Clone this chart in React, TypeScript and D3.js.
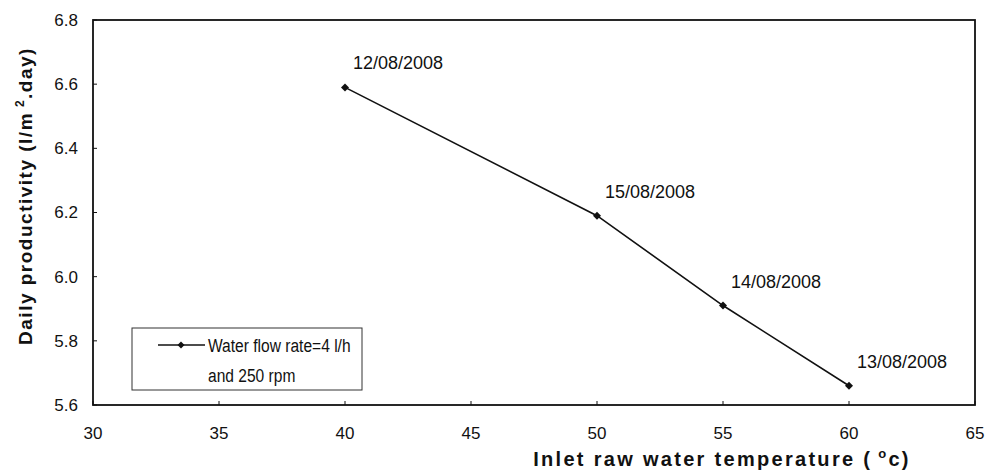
import * as d3 from "d3";

// data
const temps = [40, 50, 55, 60];
const productivity = [6.59, 6.19, 5.91, 5.66];
const dates = ["12/08/2008", "15/08/2008", "14/08/2008", "13/08/2008"];
const xTicks = [30, 35, 40, 45, 50, 55, 60, 65];
const yTicks = [5.6, 5.8, 6.0, 6.2, 6.4, 6.6, 6.8];
const legendLines = ["Water flow rate=4 l/h", "and 250 rpm"];

const W = 989;
const H = 472;
const margin = { left: 93, right: 14, top: 20, bottom: 67 };
const font = "'Liberation Sans', Arial, sans-serif";

const Diamond = ({ x, y, r = 4 }: { x: number; y: number; r?: number }) => (
  <path d={`M${x},${y - r}L${x + r},${y}L${x},${y + r}L${x - r},${y}Z`} fill="#111" />
);

export default function App() {
  const x = d3.scaleLinear().domain([30, 65]).range([margin.left, W - margin.right]);
  const y = d3.scaleLinear().domain([5.6, 6.8]).range([H - margin.bottom, margin.top]);

  const pts = temps.map((t, i) => ({ t, v: productivity[i], label: dates[i] }));
  const line = d3
    .line<{ t: number; v: number }>()
    .x((d) => x(d.t))
    .y((d) => y(d.v));

  const x0 = x(30);
  const x1 = x(65);
  const y0 = y(5.6);
  const y1 = y(6.8);

  return (
    <div style={{ position: "absolute", left: 0, top: 0 }}>
      <svg width={W} height={H} style={{ display: "block", background: "#fff" }} fontFamily={font}>
        {/* frame */}
        <rect x={x0} y={y1} width={x1 - x0} height={y0 - y1} fill="none" stroke="#111" strokeWidth={1.8} />

        {/* y ticks */}
        {yTicks.map((t) => (
          <g key={"y" + t}>
            <line x1={x0} x2={x0 + 4} y1={y(t)} y2={y(t)} stroke="#111" strokeWidth={1} />
            <text x={x0 - 15} y={y(t)} dy="0.35em" textAnchor="end" fontSize={17} fill="#111">
              {t.toFixed(1)}
            </text>
          </g>
        ))}

        {/* x ticks */}
        {xTicks.map((t) => (
          <g key={"x" + t}>
            <line x1={x(t)} x2={x(t)} y1={y0} y2={y0 - 4} stroke="#111" strokeWidth={1} />
            <text x={x(t)} y={y0 + 34} textAnchor="middle" fontSize={17} fill="#111">
              {t}
            </text>
          </g>
        ))}

        {/* axis titles */}
        <text x={722} y={466} textAnchor="middle" fontSize={20} fontWeight="bold" letterSpacing={2.3} fill="#111">
          Inlet raw water temperature (
          <tspan fontSize={13} dy={-8}>
            {" "}o
          </tspan>
          <tspan dy={8}>c)</tspan>
        </text>
        <text
          transform={`translate(32, 196) rotate(-90)`}
          textAnchor="middle"
          fontSize={19}
          fontWeight="bold"
          letterSpacing={1.5}
          fill="#111"
        >
          Daily productivity (l/m
          <tspan fontSize={12} dy={-8}>
            {" "}2
          </tspan>
          <tspan dy={8}>.day)</tspan>
        </text>

        {/* series */}
        <path d={line(pts) ?? ""} fill="none" stroke="#111" strokeWidth={1.6} />
        {pts.map((p) => (
          <g key={p.label}>
            <Diamond x={x(p.t)} y={y(p.v)} />
            <text x={x(p.t) + 8} y={y(p.v) - 18} fontSize={18} fill="#111">
              {p.label}
            </text>
          </g>
        ))}

        {/* legend */}
        <rect x={132} y={328} width={230} height={62} fill="#fff" stroke="#333" strokeWidth={1} />
        <line x1={158} x2={205} y1={345} y2={345} stroke="#111" strokeWidth={1.6} />
        <Diamond x={181} y={345} r={3.5} />
        <g transform="translate(208, 0) scale(0.82, 1)">
          {legendLines.map((s, i) => (
            <text key={s} x={0} y={352 + i * 30} fontSize={19} fill="#111">
              {s}
            </text>
          ))}
        </g>
      </svg>
    </div>
  );
}
